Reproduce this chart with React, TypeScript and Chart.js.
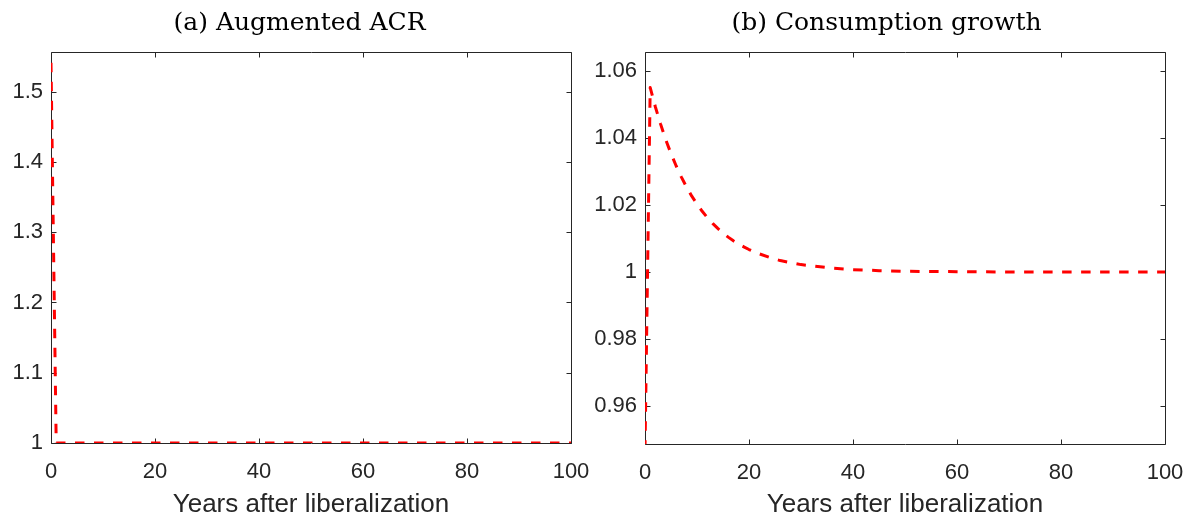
import React, { useEffect, useRef } from "react";
import { Chart, registerables } from "chart.js";

Chart.register(...registerables);

// ---- data ----
const xTicks = [0, 20, 40, 60, 80, 100];

const yearsA = [0, 1, 10, 20, 30, 40, 50, 60, 70, 80, 90, 100];
const acrValues = [1.541, 1.0, 1.0, 1.0, 1.0, 1.0, 1.0, 1.0, 1.0, 1.0, 1.0, 1.0];
const yTicksA = [1, 1.1, 1.2, 1.3, 1.4, 1.5];

const yearsB = [
  0, 1, 2, 3, 4, 5, 6, 7, 8, 9, 10, 11, 12, 13, 14, 15, 16, 17, 18, 19, 20,
  22, 24, 26, 28, 30, 35, 40, 45, 50, 60, 70, 80, 90, 100,
];
const consValues = [
  0.947, 1.055, 1.0492, 1.0441, 1.0394, 1.0353, 1.0316, 1.0283, 1.0253, 1.0226,
  1.0203, 1.0181, 1.0162, 1.0145, 1.013, 1.0116, 1.0104, 1.0093, 1.0083, 1.0075,
  1.0067, 1.0054, 1.0043, 1.0034, 1.0028, 1.0022, 1.0013, 1.0007, 1.0004, 1.0002,
  1.0001, 1.0, 1.0, 1.0, 1.0,
];
const yTicksB = [0.96, 0.98, 1, 1.02, 1.04, 1.06];

const titleA = "(a) Augmented ACR";
const titleB = "(b) Consumption growth";
const xLabel = "Years after liberalization";

const SANS = "'Liberation Sans', Arial, Helvetica, sans-serif";
const SERIF = "'DejaVu Serif', 'Liberation Serif', serif";
const AXIS_COLOR = "#262626";

type PanelCfg = {
  years: number[];
  values: number[];
  yMin: number;
  yMax: number;
  yTicks: number[];
  title: string;
  titleX: number;
  width: number;
  height: number;
  plotLeft: number;
  plotRight: number;
  plotTop: number;
  plotBottom: number;
};

const boxPlugin = {
  id: "boxTicks",
  beforeDatasetsDraw(chart: any) {
    const { ctx, chartArea } = chart;
    const { left, right, top, bottom } = chartArea;
    const xs = chart.scales.x;
    const ys = chart.scales.y;
    const L = Math.round(left) + 0.5;
    const R = Math.round(right) + 0.5;
    const T = Math.round(top) + 0.5;
    const B = Math.round(bottom) + 0.5;
    ctx.save();
    ctx.strokeStyle = AXIS_COLOR;
    ctx.lineWidth = 1;
    ctx.beginPath();
    ctx.rect(L, T, R - L, B - T);
    ctx.stroke();
    const len = 5;
    ctx.beginPath();
    xs.ticks.forEach((t: any) => {
      const px = Math.round(xs.getPixelForValue(t.value)) + 0.5;
      ctx.moveTo(px, B);
      ctx.lineTo(px, B - len);
      ctx.moveTo(px, T);
      ctx.lineTo(px, T + len);
    });
    ys.ticks.forEach((t: any) => {
      const py = Math.round(ys.getPixelForValue(t.value)) + 0.5;
      ctx.moveTo(L, py);
      ctx.lineTo(L + len, py);
      ctx.moveTo(R, py);
      ctx.lineTo(R - len, py);
    });
    ctx.stroke();
    ctx.restore();
  },
};

const titlePlugin = {
  id: "panelTitle",
  afterDraw(chart: any, _args: any, opts: any) {
    const { ctx } = chart;
    ctx.save();
    ctx.fillStyle = "#000000";
    ctx.font = `25px ${SERIF}`;
    ctx.textAlign = "center";
    ctx.textBaseline = "alphabetic";
    ctx.fillText(opts.text, opts.x, 30);
    ctx.restore();
  },
};

function Panel(props: PanelCfg & { left: number }) {
  const ref = useRef<HTMLCanvasElement | null>(null);
  useEffect(() => {
    if (!ref.current) return;
    const p = props;
    const chart = new Chart(ref.current, {
      type: "line",
      data: {
        datasets: [
          {
            data: p.years.map((x, i) => ({ x, y: p.values[i] })),
            borderColor: "#ff0000",
            borderWidth: 3,
            borderDash: [9.5, 9.5],
            borderCapStyle: "butt",
            borderJoinStyle: "round",
            pointRadius: 0,
            fill: false,
            tension: 0,
          },
        ],
      },
      options: {
        responsive: false,
        maintainAspectRatio: false,
        animation: false,
        events: [],
        layout: {
          padding: {
            left: 0,
            top: p.plotTop,
            right: p.width - p.plotRight,
            bottom: 0,
          },
        },
        plugins: {
          legend: { display: false },
          tooltip: { enabled: false },
          panelTitle: { text: p.title, x: p.titleX },
        } as any,
        scales: {
          x: {
            type: "linear",
            min: 0,
            max: 100,
            afterBuildTicks: (s: any) => {
              s.ticks = xTicks.map((v) => ({ value: v }));
            },
            afterFit: (s: any) => {
              s.height = p.height - p.plotBottom;
              s.paddingLeft = 0;
              s.paddingRight = 0;
              s.paddingTop = 0;
              s.paddingBottom = 0;
            },
            grid: { display: false, drawTicks: false },
            border: { display: false },
            ticks: {
              color: AXIS_COLOR,
              font: { family: SANS, size: 22 },
              padding: 16,
              maxRotation: 0,
              autoSkip: false,
              callback: (v: any) => String(v),
            },
            title: {
              display: true,
              text: xLabel,
              color: AXIS_COLOR,
              font: { family: SANS, size: 26, lineHeight: 0.7 },
              padding: { top: 0, bottom: 0 },
            },
          },
          y: {
            type: "linear",
            min: p.yMin,
            max: p.yMax,
            afterBuildTicks: (s: any) => {
              s.ticks = p.yTicks.map((v) => ({ value: v }));
            },
            afterFit: (s: any) => {
              s.width = p.plotLeft;
              s.paddingTop = 0;
              s.paddingBottom = 0;
              s.paddingLeft = 0;
              s.paddingRight = 0;
            },
            grid: { display: false, drawTicks: false },
            border: { display: false },
            ticks: {
              color: AXIS_COLOR,
              font: { family: SANS, size: 22 },
              padding: 8,
              autoSkip: false,
              callback: (v: any) => String(v),
            },
          },
        },
      } as any,
      plugins: [boxPlugin, titlePlugin],
    });
    return () => chart.destroy();
  }, []);
  return (
    <canvas
      ref={ref}
      width={props.width}
      height={props.height}
      style={{
        position: "absolute",
        left: props.left,
        top: 0,
        width: props.width,
        height: props.height,
      }}
    />
  );
}

export default function App() {
  return (
    <div
      style={{
        position: "absolute",
        left: 0,
        top: 0,
        width: 1187,
        height: 514,
        background: "#ffffff",
        overflow: "hidden",
      }}
    >
      <Panel
        left={0}
        width={600}
        height={514}
        years={yearsA}
        values={acrValues}
        yMin={1}
        yMax={1.5564}
        yTicks={yTicksA}
        title={titleA}
        titleX={299.5}
        plotLeft={51}
        plotRight={571}
        plotTop={52}
        plotBottom={443}
      />
      <Panel
        left={580}
        width={607}
        height={514}
        years={yearsB}
        values={consValues}
        yMin={0.9487}
        yMax={1.0656}
        yTicks={yTicksB}
        title={titleB}
        titleX={306.5}
        plotLeft={65}
        plotRight={585}
        plotTop={52}
        plotBottom={444}
      />
    </div>
  );
}
